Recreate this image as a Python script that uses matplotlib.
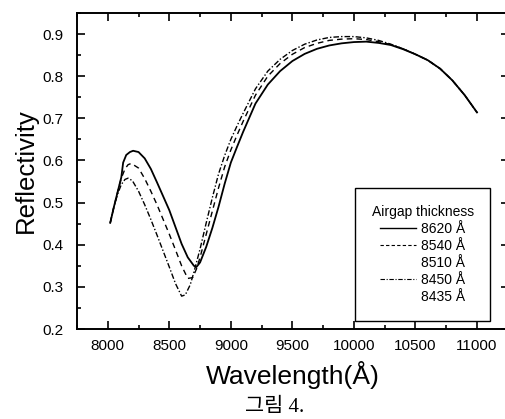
import matplotlib
matplotlib.use("Agg")
import matplotlib.pyplot as plt
from matplotlib.lines import Line2D

plt.rcParams['font.family'] = ['Liberation Sans', 'DejaVu Sans']

# ---- data ----
wl_8620 = [8020, 8050, 8080, 8110, 8125, 8150, 8180, 8206, 8250, 8300, 8350, 8400, 8450,
           8500, 8550, 8600, 8650, 8700, 8720, 8750, 8800, 8850, 8900, 8950, 9000, 9050,
           9100, 9200, 9300, 9400, 9500, 9600, 9700, 9800, 9900, 10000, 10100, 10200,
           10300, 10400, 10500, 10600, 10700, 10800, 10900, 11000]
r_8620 = [0.452, 0.49, 0.525, 0.56, 0.595, 0.613, 0.620, 0.623, 0.620, 0.605, 0.580, 0.548, 0.515,
          0.482, 0.442, 0.402, 0.370, 0.350, 0.347, 0.358, 0.395, 0.440, 0.490, 0.545, 0.595, 0.632,
          0.668, 0.735, 0.780, 0.812, 0.836, 0.853, 0.865, 0.873, 0.878, 0.881, 0.882, 0.879,
          0.874, 0.864, 0.852, 0.838, 0.818, 0.790, 0.755, 0.714]

wl_8540 = [8020, 8050, 8080, 8110, 8140, 8165, 8191, 8250, 8300, 8350, 8400, 8450, 8500,
           8550, 8600, 8650, 8690, 8720, 8750, 8800, 8850, 8900, 8950, 9000, 9050, 9100,
           9200, 9300, 9400, 9500, 9600, 9700, 9800, 9900, 10000, 10100, 10200, 10300,
           10400, 10500, 10600, 10700, 10800, 10900, 11000]
r_8540 = [0.452, 0.49, 0.525, 0.558, 0.580, 0.590, 0.593, 0.582, 0.557, 0.527, 0.495, 0.460, 0.425,
          0.388, 0.350, 0.320, 0.322, 0.342, 0.370, 0.425, 0.480, 0.535, 0.585, 0.625, 0.660, 0.693,
          0.755, 0.800, 0.830, 0.852, 0.868, 0.878, 0.885, 0.888, 0.889, 0.887, 0.882, 0.875,
          0.865, 0.852, 0.838, 0.818, 0.790, 0.755, 0.714]

wl_8450 = [8020, 8050, 8080, 8110, 8140, 8165, 8200, 8250, 8300, 8350, 8400, 8450, 8500,
           8550, 8600, 8630, 8670, 8700, 8750, 8800, 8850, 8900, 8950, 9000, 9050, 9100,
           9200, 9300, 9400, 9500, 9600, 9700, 9800, 9900, 10000, 10100, 10200, 10300,
           10400, 10500, 10600, 10700, 10800, 10900, 11000]
r_8450 = [0.452, 0.49, 0.52, 0.543, 0.555, 0.558, 0.552, 0.527, 0.495, 0.460, 0.423, 0.385, 0.347,
          0.308, 0.278, 0.281, 0.305, 0.335, 0.390, 0.452, 0.512, 0.568, 0.612, 0.650, 0.682, 0.712,
          0.770, 0.812, 0.840, 0.861, 0.876, 0.886, 0.892, 0.894, 0.894, 0.891, 0.885, 0.876,
          0.865, 0.852, 0.838, 0.818, 0.790, 0.755, 0.714]

legend_labels = ["8620 Å", "8540 Å", "8510 Å", "8450 Å", "8435 Å"]
x_ticks = [8000, 8500, 9000, 9500, 10000, 10500, 11000]
y_ticks = [0.2, 0.3, 0.4, 0.5, 0.6, 0.7, 0.8, 0.9]

# ---- figure ----
fig = plt.figure(figsize=(5.05, 4.19), dpi=100)
W, H = 505, 419
x0, x1, ytop, ybot = 77, 509, 13, 329
ax = fig.add_axes([x0 / W, (H - ybot) / H, (x1 - x0) / W, (ybot - ytop) / H])

ax.plot(wl_8620, r_8620, color='black', lw=1.3, ls='-')
ax.plot(wl_8540, r_8540, color='black', lw=1.0, ls=(0, (4, 3)))
ax.plot(wl_8450, r_8450, color='black', lw=1.0, ls=(0, (4, 1.5, 1, 1.5)))

ax.set_xlim(7750, 11260)
ax.set_ylim(0.2, 0.95)
ax.set_xticks(x_ticks)
ax.set_yticks(y_ticks)
ax.set_xticks([t + 250 for t in x_ticks[:-1]] + [7750], minor=True)
ax.set_yticks([t + 0.05 for t in y_ticks], minor=True)
ax.tick_params(which='both', direction='in', top=True, right=True, width=1.2, labelsize=11)
ax.tick_params(which='major', length=6)
ax.tick_params(which='minor', length=3)
ax.tick_params(axis='y', pad=10)
ax.tick_params(axis='x', pad=7)
for s in ax.spines.values():
    s.set_linewidth(1.4)

ax.set_xlabel("Wavelength(Å)", fontsize=19, labelpad=6)
ax.set_ylabel("Reflectivity", fontsize=18.5, labelpad=3)

handles = [
    Line2D([], [], color='black', lw=1.0, ls='-'),
    Line2D([], [], color='black', lw=0.8, ls=(0, (3, 2))),
    Line2D([], [], color='none', lw=0),
    Line2D([], [], color='black', lw=0.8, ls=(0, (4, 1.5, 1, 1.5))),
    Line2D([], [], color='none', lw=0),
]
leg = ax.legend(handles, legend_labels, title="Airgap thickness", fontsize=10,
                title_fontsize=10, loc='upper left',
                bbox_to_anchor=((355 - x0) / (x1 - x0), (ybot - 188) / (ybot - ytop)),
                frameon=True, fancybox=False, edgecolor='black', framealpha=1,
                handlelength=2.6, handletextpad=0.4, labelspacing=0.22,
                borderpad=1.2, borderaxespad=0)
leg.get_frame().set_linewidth(1.0)

fig.text(275 / W, 1 - 407 / H, "그림 4.", ha='center', va='center', fontsize=15,
         family=['Liberation Serif', 'Noto Sans CJK KR'])

fig.savefig("out.png", dpi=100)
